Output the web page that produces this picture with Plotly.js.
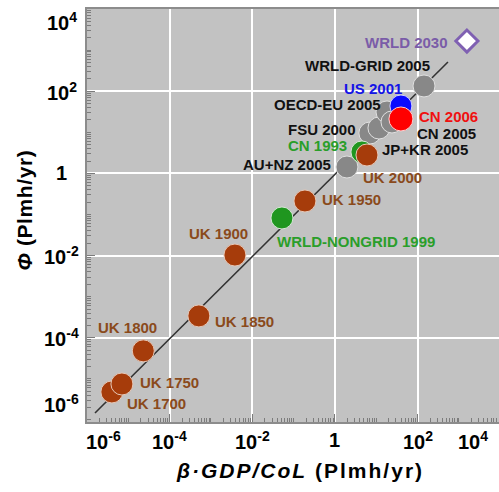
<!DOCTYPE html>
<html>
<head>
<meta charset="utf-8">
<script src="https://cdn.plot.ly/plotly-3.0.1.min.js"></script>
<style>
html, body { margin: 0; padding: 0; background: #fff; overflow: hidden; }
#chart { width: 499px; height: 492px; }
</style>
</head>
<body>
<div id="chart"></div>
<script>
// ---- data ----
const ukLabels = ['UK 1700', 'UK 1750', 'UK 1800', 'UK 1850', 'UK 1900', 'UK 1950', 'UK 2000'];
const ukX = [4.0e-6, 7.0e-6, 2.3e-5, 5.1e-4, 3.8e-3, 0.188, 5.96];
const ukY = [4.8e-6, 7.5e-6, 4.8e-5, 3.4e-4, 1.03e-2, 0.213, 2.8];

const greenLabels = ['WRLD-NONGRID 1999', 'CN 1993'];
const greenX = [0.0522, 4.5];
const greenY = [0.0822, 3.32];

const greyLabels = ['AU+NZ 2005', 'FSU 2000', 'JP+KR 2005', 'OECD-EU 2005', 'CN 2005', 'WRLD-GRID 2005'];
const greyX = [1.95, 7.0, 11.6, 18.2, 24, 143];
const greyY = [1.43, 9.6, 12.7, 31.2, 17.8, 134];

const usLabels = ['US 2001'];
const usX = [39.5];
const usY = [43.6];

const cn06Labels = ['CN 2006'];
const cn06X = [39.5];
const cn06Y = [21.1];

const futureLabels = ['WRLD 2030'];
const futureX = [1560];
const futureY = [1660];

const fitX = [1.56e-6, 543];
const fitY = [1.48e-6, 513];

const tickExponents = [-6, -4, -2, 0, 2, 4];
const tickLabels = ['10<sup>-6</sup>', '10<sup>-4</sup>', '10<sup>-2</sup>', '1', '10<sup>2</sup>', '10<sup>4</sup>'];

const xTitle = '<i>β·GDP/CoL</i> (Plmh/yr)';
const yTitle = '<i>Φ</i> (Plmh/yr)';

// ---- styling ----
const FONT = 'Liberation Sans, Arial, Helvetica, sans-serif';
const XR = [-6, 3.97];
const YR = [-6.05, 4];

// label offsets in pixels (dx right, dy up) relative to the marker centre
const labelOffsets = {
  'UK 1700': [45, -12], 'UK 1750': [48, 1], 'UK 1800': [-16, 23], 'UK 1850': [46, -6],
  'UK 1900': [-16, 22], 'UK 1950': [47, 1], 'UK 2000': [26, -22],
  'WRLD-NONGRID 1999': [74, -24], 'CN 1993': [-44, 6],
  'AU+NZ 2005': [-60, 2], 'FSU 2000': [-48, 4], 'JP+KR 2005': [46, -21],
  'OECD-EU 2005': [-60, 7], 'CN 2005': [55, -12], 'WRLD-GRID 2005': [-57, 20],
  'US 2001': [-28, 18], 'CN 2006': [48, 2], 'WRLD 2030': [-60, -1]
};

const series = [
  {labels: greyLabels, x: greyX, y: greyY, color: '#888888', text: '#111111', size: 22, symbol: 'circle', line: '#e0e0e0', lw: 1},
  {labels: greenLabels, x: greenX, y: greenY, color: '#1f961f', text: '#2a9e2a', size: 22, symbol: 'circle', line: '#d8e8d8', lw: 1},
  {labels: ukLabels, x: ukX, y: ukY, color: '#a63c0b', text: '#8a4a1c', size: 22, symbol: 'circle', line: '#e6c8b8', lw: 1},
  {labels: usLabels, x: usX, y: usY, color: '#0a0aff', text: '#1414e6', size: 22, symbol: 'circle', line: '#d0d0ff', lw: 1},
  {labels: cn06Labels, x: cn06X, y: cn06Y, color: '#ff0000', text: '#f01010', size: 24, symbol: 'circle', line: '#ffd0d0', lw: 1},
  {labels: futureLabels, x: futureX, y: futureY, color: '#ffffff', text: '#7a5ca8', size: 17, symbol: 'diamond', line: '#7f60b2', lw: 3}
];

const traces = [{
  x: fitX, y: fitY, mode: 'lines', type: 'scatter',
  line: {color: '#333333', width: 1.6}, hoverinfo: 'skip', showlegend: false
}];
const annotations = [];

series.forEach(s => {
  traces.push({
    x: s.x, y: s.y, type: 'scatter', mode: 'markers', showlegend: false,
    marker: {color: s.color, size: s.size, symbol: s.symbol, line: {color: s.line, width: s.lw}},
    text: s.labels, hoverinfo: 'text', cliponaxis: false
  });
  s.labels.forEach((lab, i) => {
    const off = labelOffsets[lab] || [0, 0];
    annotations.push({
      x: Math.log10(s.x[i]), y: Math.log10(s.y[i]), xref: 'x', yref: 'y',
      text: lab, showarrow: false, xanchor: 'center', yanchor: 'middle',
      xshift: off[0], yshift: off[1],
      font: {family: FONT, size: 15, color: s.text, weight: 'bold'}
    });
  });
});

// tick labels (placed like the reference; extreme labels pulled inside)
const xShifts = {'-6': 16, '4': -27};
const yShifts = {'-6': 16, '4': -12};
tickExponents.forEach((e, i) => {
  annotations.push({
    x: (e - XR[0]) / (XR[1] - XR[0]), y: -0.0436, xref: 'paper', yref: 'paper',
    text: tickLabels[i], showarrow: false, xanchor: 'center', yanchor: 'middle',
    xshift: xShifts[String(e)] || 0,
    font: {family: FONT, size: 20, color: '#000', weight: 'bold'}
  });
  annotations.push({
    x: -0.0607, y: (e - YR[0]) / (YR[1] - YR[0]), xref: 'paper', yref: 'paper',
    text: tickLabels[i], showarrow: false, xanchor: 'center', yanchor: 'middle',
    yshift: yShifts[String(e)] || 0,
    font: {family: FONT, size: 20, color: '#000', weight: 'bold'}
  });
});

const xTitleIndex = annotations.length;
annotations.push({
  x: 0.517, y: -0.1186, xref: 'paper', yref: 'paper', text: xTitle, showarrow: false,
  xanchor: 'center', yanchor: 'middle', font: {family: FONT, size: 21, color: '#000', weight: 'bold'}
});
const yTitleIndex = annotations.length;
annotations.push({
  x: -0.153, y: 0.513, xref: 'paper', yref: 'paper', text: yTitle, showarrow: false,
  textangle: -90, xanchor: 'center', yanchor: 'middle', font: {family: FONT, size: 21, color: '#000', weight: 'bold'}
});

// minor tick positions (2..9 within each decade, plus odd decades)
const minorVals = [];
for (let k = -7; k <= 4; k++) {
  if (k % 2 !== 0 || k === -6 || k === 4) minorVals.push(Math.pow(10, k));
  for (let m = 2; m <= 9; m++) minorVals.push(m * Math.pow(10, k));
}
const majorVals = [1e-4, 1e-2, 1, 1e2];

function axis(range) {
  return {
    type: 'log', range: range, autorange: false,
    tickmode: 'array', tickvals: majorVals, showticklabels: false,
    ticks: 'inside', ticklen: 8, tickwidth: 1, tickcolor: '#7c7c7c',
    showgrid: true, gridcolor: '#ffffff', gridwidth: 2,
    showline: true, mirror: true, linecolor: '#8c8c8c', linewidth: 2,
    zeroline: false,
    minor: {tickmode: 'array', tickvals: minorVals, ticks: 'inside', ticklen: 4, tickwidth: 1, tickcolor: '#7c7c7c', showgrid: false}
  };
}

const layout = {
  width: 499, height: 492,
  margin: {l: 87, r: 0, t: 9, b: 70},
  paper_bgcolor: '#ffffff', plot_bgcolor: '#c2c2c2',
  xaxis: axis(XR), yaxis: axis(YR),
  showlegend: false, annotations: annotations,
  font: {family: FONT}
};

Plotly.newPlot('chart', traces, layout, {displayModeBar: false, staticPlot: true}).then(gd => {
  const spacing = {};
  spacing[xTitleIndex] = '2px';
  spacing[yTitleIndex] = '0.6px';
  Object.keys(spacing).forEach(idx => {
    const g = gd.querySelector('g.annotation[data-index="' + idx + '"] text');
    if (g) g.style.letterSpacing = spacing[idx];
  });
});
</script>
</body>
</html>
